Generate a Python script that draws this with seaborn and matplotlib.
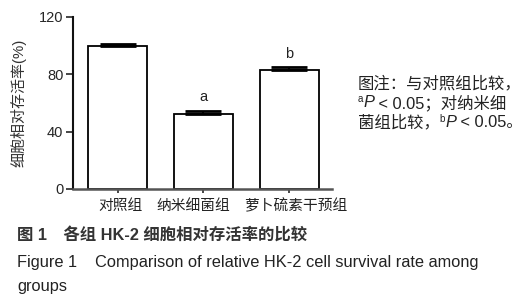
import matplotlib
matplotlib.use("Agg")
import matplotlib.pyplot as plt
import matplotlib.transforms as mtransforms
import seaborn as sns
import pandas as pd

# data
groups = ["对照组", "纳米细菌组", "萝卜硫素干预组"]
survival = [100.0, 52.5, 83.0]
sem = [1.5, 2.0, 2.0]
marks = ["", "a", "b"]
y_ticks = [0, 40, 80, 120]

sns.set_style("ticks")
plt.rcParams["font.family"] = ["Liberation Sans", "Noto Sans CJK SC"]

df = pd.DataFrame({"group": groups, "value": survival})

fig = plt.figure(figsize=(5.32, 3.00), dpi=100)
ax = fig.add_axes([73 / 532, 1 - 189 / 300, (332 - 73) / 532, (189 - 17) / 300])

sns.barplot(data=df, x="group", y="value", color="white", edgecolor="black",
            linewidth=1.3, width=0.69, ax=ax, saturation=1)
ax.errorbar(range(len(groups)), survival, yerr=[[0] * len(sem), sem],
            fmt="none", ecolor="black", elinewidth=1.5, capsize=13, capthick=2)
for i, (v, e, m) in enumerate(zip(survival, sem, marks)):
    if m:
        ax.text(i, v + e + 4.5, m, ha="center", va="bottom", fontsize=10.5,
                color="#222222")

ax.set_ylim(0, 120)
ax.set_xlim(-0.52, 2.5)
ax.set_yticks(y_ticks)
ax.set_xlabel("")
ax.set_ylabel("细胞相对存活率(%)", fontsize=10.8, color="#333333", labelpad=9)
ax.tick_params(axis="y", length=5, width=1.2, labelsize=10.5, pad=2)
ax.tick_params(axis="x", length=3, width=1.2, labelsize=10.6, pad=4,
               labelcolor="#222222")
sns.despine(ax=ax)
ax.spines["left"].set_linewidth(1.5)
ax.spines["left"].set_color("#111111")
ax.spines["bottom"].set_linewidth(1.8)
ax.spines["bottom"].set_color("#555555")

# the tick labels sit a little apart from the bar centres in the original
for lab, dx in zip(ax.get_xticklabels(), [3, -10, 7]):
    lab.set_transform(lab.get_transform()
                      + mtransforms.ScaledTranslation(dx / 100, 0, fig.dpi_scale_trans))

fig.canvas.draw()
renderer = fig.canvas.get_renderer()


def write_pieces(x_px, y_px, pieces, size=11.8):
    """place text pieces one after another, left to right"""
    x = x_px / 532
    for txt, style in pieces:
        kw = dict(fontsize=size, va="center", ha="left", color="#222222")
        if style == "sup":
            t = fig.text(x, 1 - (y_px - 4) / 300, txt, fontsize=size * 0.6,
                         va="center", ha="left", color="#222222")
        elif style == "it":
            t = fig.text(x, 1 - y_px / 300, txt, style="italic", **kw)
        else:
            t = fig.text(x, 1 - y_px / 300, txt, **kw)
        bb = t.get_window_extent(renderer)
        x += bb.width / 532


write_pieces(358, 83, [("图注：与对照组比较，", "")])
write_pieces(358, 103, [("a", "sup"), ("P", "it"), (" < 0.05；对纳米细", "")])
write_pieces(358, 123, [("菌组比较，", ""), ("b", "sup"), ("P", "it"), (" < 0.05。", "")])

fig.text(17 / 532, 1 - 235 / 300, "图 1　各组 HK-2 细胞相对存活率的比较",
         fontsize=11.8, fontweight="bold", va="center", color="#333333")
fig.text(17 / 532, 1 - 262 / 300,
         "Figure 1    Comparison of relative HK-2 cell survival rate among",
         fontsize=11.8, va="center", color="#222222")
fig.text(17 / 532, 1 - 286 / 300, "groups", fontsize=11.8, va="center",
         color="#222222")

fig.savefig("out.png", dpi=100)
